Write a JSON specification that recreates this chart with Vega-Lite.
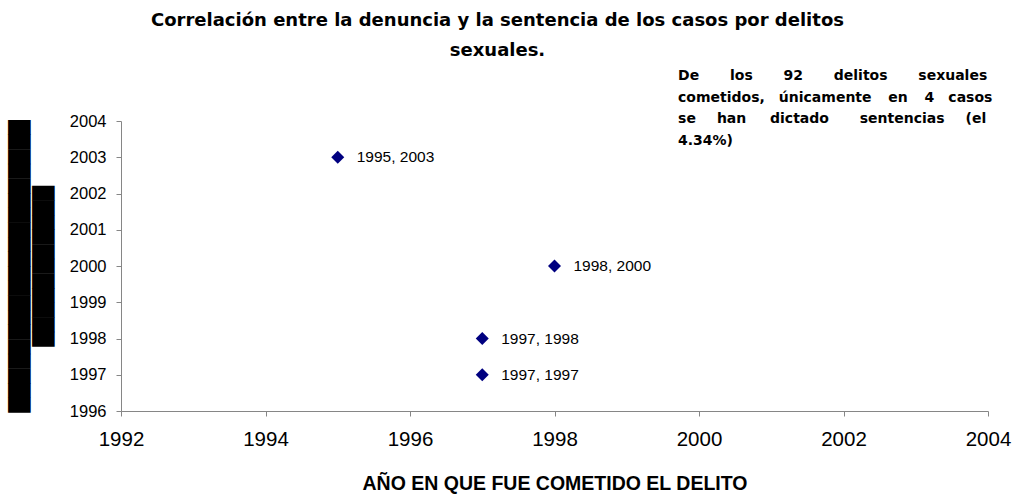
{
  "$schema": "https://vega.github.io/schema/vega-lite/v6.json",
  "width": 867,
  "height": 290,
  "autosize": {"type": "none"},
  "padding": {"left": 121, "top": 121, "right": 25, "bottom": 85},
  "background": "white",
  "config": {
    "view": {"stroke": null},
    "axis": {"grid": false, "domainColor": "#868686", "tickColor": "#868686", "labelColor": "black", "labelFont": "Liberation Sans", "tickSize": 5, "labelOverlap": false},
    "axisX": {
      "labelFontSize": 20.5, "labelPadding": 13, "labelFlush": false,
      "titleFont": "Liberation Sans", "titleFontSize": 19.5, "titleFontWeight": "bold", "titleColor": "black",
      "titlePadding": 25
    },
    "axisY": {
      "labelFontSize": 16.5, "labelPadding": 10, "labelFlush": false,
      "titleFont": "DejaVu Sans", "titleFontSize": 19, "titleFontWeight": "normal", "titleColor": "black",
      "titleLineHeight": 24, "titlePadding": 16
    }
  },
  "title": {
    "text": ["Correlación entre la denuncia y la sentencia de los casos por delitos", "sexuales."],
    "font": "DejaVu Sans",
    "fontSize": 18,
    "fontWeight": "bold",
    "color": "black",
    "anchor": "middle",
    "dx": -57,
    "lineHeight": 30,
    "offset": 9
  },
  "datasets": {
    "casos": [
      {"delito": 1995, "sentencia": 2003},
      {"delito": 1998, "sentencia": 2000},
      {"delito": 1997, "sentencia": 1998},
      {"delito": 1997, "sentencia": 1997}
    ],
    "nota": [
      {"texto": "De\u2003\u2003\u2009los\u2003\u2003\u200992\u2003\u2003\u2009delitos\u2003\u2003\u2009sexuales\ncometidos,\u2003únicamente\u2003\u2009en\u2003\u20094\u2003casos\nse\u2003\u2002han\u2003\u2002\u2009dictado\u2003\u2003\u2009sentencias\u2003\u2002(el\n4.34%)"}
    ]
  },
  "layer": [
    {
      "data": {"name": "casos"},
      "mark": {"type": "point", "shape": "diamond", "filled": true, "color": "#000080", "size": 170, "opacity": 1},
      "encoding": {
        "x": {
          "field": "delito", "type": "quantitative",
          "scale": {"domain": [1992, 2004], "nice": false, "zero": false},
          "axis": {"title": "AÑO EN QUE FUE COMETIDO EL DELITO", "values": [1992, 1994, 1996, 1998, 2000, 2002, 2004], "format": "d"}
        },
        "y": {
          "field": "sentencia", "type": "quantitative",
          "scale": {"domain": [1996, 2004], "nice": false, "zero": false},
          "axis": {"title": ["████████████████████", "███████████"], "values": [1996, 1997, 1998, 1999, 2000, 2001, 2002, 2003, 2004], "format": "d"}
        }
      }
    },
    {
      "data": {"name": "casos"},
      "transform": [{"calculate": "datum.delito + ', ' + datum.sentencia", "as": "etiqueta"}],
      "mark": {"type": "text", "align": "left", "baseline": "middle", "dx": 19, "font": "Liberation Sans", "fontSize": 15.5, "color": "black"},
      "encoding": {
        "x": {"field": "delito", "type": "quantitative", "axis": {"title": "AÑO EN QUE FUE COMETIDO EL DELITO", "values": [1992, 1994, 1996, 1998, 2000, 2002, 2004], "format": "d"}},
        "y": {"field": "sentencia", "type": "quantitative", "axis": {"title": ["████████████████████", "███████████"], "values": [1996, 1997, 1998, 1999, 2000, 2001, 2002, 2003, 2004], "format": "d"}},
        "text": {"field": "etiqueta"}
      }
    },
    {
      "data": {"name": "nota"},
      "mark": {"type": "text", "align": "left", "baseline": "top", "font": "DejaVu Sans", "fontSize": 14, "fontWeight": "bold", "color": "black", "lineBreak": "\n", "lineHeight": 21.5},
      "encoding": {
        "x": {"datum": 1999.71, "type": "quantitative", "axis": {"title": "AÑO EN QUE FUE COMETIDO EL DELITO", "values": [1992, 1994, 1996, 1998, 2000, 2002, 2004], "format": "d"}},
        "y": {"datum": 2005.434, "type": "quantitative", "axis": {"title": ["████████████████████", "███████████"], "values": [1996, 1997, 1998, 1999, 2000, 2001, 2002, 2003, 2004], "format": "d"}},
        "text": {"field": "texto"}
      }
    }
  ]
}
